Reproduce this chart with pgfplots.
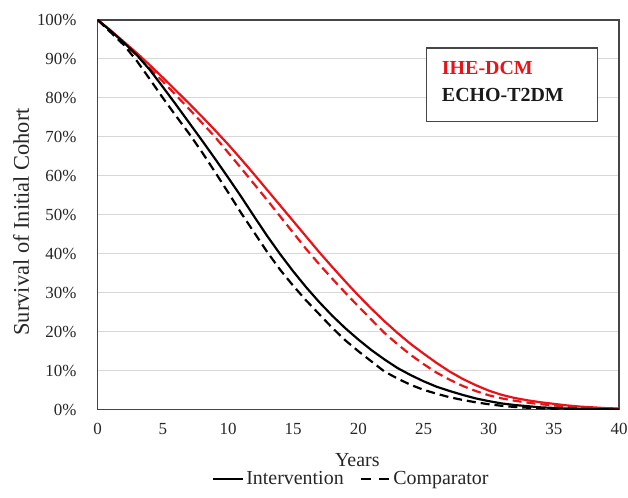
\documentclass[border=0pt]{standalone}
\usepackage{pgfplots}
\pgfplotsset{compat=1.18}
\usepackage{pgfplotstable}
\usepackage{fontspec}
\setmainfont{Liberation Serif}
\definecolor{cred}{RGB}{232,18,24}
\definecolor{frame}{RGB}{70,70,70}
\definecolor{gridc}{RGB}{215,215,215}

\pgfplotstableread{
year RS RD BS BD
0 100 100 100 100
1 97.3 97.1 97.2 96.8
2 94.4 94.0 94.2 93.6
3 91.5 90.9 91.0 89.5
4 88.4 87.6 87.2 84.8
5 85.2 84.2 82.8 80.0
6 81.9 80.7 78.3 75.4
7 78.6 77.2 73.7 70.9
8 75.2 73.6 69.1 66.1
9 71.7 70.0 64.4 61.0
10 68.1 66.0 59.6 55.8
11 64.3 62.0 54.7 50.5
12 60.4 57.9 49.6 45.5
13 56.4 53.8 44.6 40.5
14 52.4 49.6 39.9 35.9
15 48.4 45.4 35.5 31.8
16 44.4 41.2 31.4 28.0
17 40.4 37.3 27.6 24.5
18 36.6 33.6 24.1 21.0
19 32.9 30.0 20.9 17.8
20 29.3 26.5 18.0 15.0
21 25.9 23.1 15.3 12.4
22 22.7 19.7 12.9 9.8
23 19.7 16.8 10.7 8.0
24 16.9 14.1 8.9 6.4
25 14.4 11.7 7.3 5.1
26 12.0 9.5 5.9 4.1
27 9.8 7.7 4.8 3.2
28 7.9 6.1 3.8 2.5
29 6.3 4.8 2.9 1.9
30 4.9 3.7 2.2 1.4
31 3.8 2.9 1.6 1.0
32 3.0 2.3 1.2 0.7
33 2.4 1.8 0.9 0.5
34 1.9 1.4 0.6 0.35
35 1.5 1.1 0.45 0.25
36 1.1 0.8 0.3 0.15
37 0.8 0.6 0.2 0.1
38 0.6 0.4 0.15 0.05
39 0.4 0.3 0.1 0.02
40 0.3 0.2 0.05 0
}\surv

\begin{document}
\begin{tikzpicture}
\useasboundingbox (-98pt,-88pt) rectangle (532pt,411pt);
\begin{axis}[
  at={(0pt,0pt)}, anchor=south west,
  scale only axis,
  width=523pt, height=391pt,
  xmin=0, xmax=40, ymin=0, ymax=100,
  xtick={0,5,...,40},
  ytick={0,10,...,100},
  yticklabel={\pgfmathprintnumber{\tick}\%},
  /pgf/number format/assume math mode=true,
  ymajorgrids, grid style={gridc, line width=0.9pt},
  major tick length=0pt,
  axis line style={frame, line width=1.3pt},
  tick label style={font=\fontsize{17}{19}\selectfont, text=black!85, inner sep=0pt},
  yticklabel style={anchor=east, xshift=-21pt},
  xticklabel style={anchor=center, yshift=-19pt},
  xlabel={Years},
  ylabel={Survival of Initial Cohort},
  xlabel style={at={(axis description cs:0.498,0)}, anchor=base, yshift=-57pt, inner sep=0pt,
    font=\fontsize{20}{22}\selectfont, text=black!85},
  ylabel style={at={(axis description cs:-0.147,0.482)}, anchor=center, inner sep=0pt,
    font=\fontsize{22.5}{24}\selectfont, text=black!85},
  legend style={at={(axis description cs:0.487,-0.177)}, anchor=center, draw=none, fill=none,
    font=\fontsize{20}{22}\selectfont, text=black!85, legend columns=2, inner sep=0pt,
    /tikz/every even column/.append style={column sep=14pt}},
  legend image code/.code={\draw[#1] (0pt,0pt) -- (30pt,0pt);},
]
\addplot[cred, line width=2.2pt, forget plot] table[x=year, y=RS] {\surv};
\addplot[cred, line width=2.2pt, dash pattern=on 9pt off 5pt, forget plot] table[x=year, y=RD] {\surv};
\addplot[black, line width=2.2pt, forget plot] table[x=year, y=BS] {\surv};
\addplot[black, line width=2.2pt, dash pattern=on 9pt off 5pt, forget plot] table[x=year, y=BD] {\surv};
\addlegendimage{black, line width=1.8pt}
\addlegendentry{Intervention}
\addlegendimage{black, line width=1.8pt, dash pattern=on 10pt off 9pt}
\addlegendentry{Comparator}
\draw[frame, line width=1.1pt, fill=white] (axis cs:25.24,73.9) rectangle (axis cs:38.32,92.8);
\node[anchor=base west, inner sep=0pt, font=\fontsize{20}{22}\selectfont\bfseries, text=cred]
  at (axis cs:26.4,85.9) {IHE-DCM};
\node[anchor=base west, inner sep=0pt, font=\fontsize{20}{22}\selectfont\bfseries, text=black!90]
  at (axis cs:26.4,79.0) {ECHO-T2DM};
\end{axis}
\end{tikzpicture}
\end{document}
